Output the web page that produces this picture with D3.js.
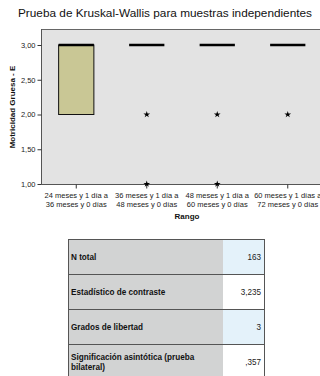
<!DOCTYPE html>
<html>
<head>
<meta charset="utf-8">
<script src="https://cdn.jsdelivr.net/npm/d3@7"></script>
<style>
  html, body { margin: 0; padding: 0; background: #fff; }
  svg { display: block; }
  text { font-family: "Liberation Sans", Arial, sans-serif; }
</style>
</head>
<body>
<svg id="chart" width="320" height="376"></svg>
<script>
// Age ranges (two lines per category label)
const catLine1 = ["24 meses y 1 día a", "36 meses y 1 día a", "48 meses y 1 día a", "60 meses y 1 días a"];
const catLine2 = ["36 meses y 0 días", "48 meses y 0 días", "60 meses y 0 días", "72 meses y 0 días"];

// Box-plot summary per range
const q1Values = [2, 3, 3, 3];
const medianValues = [3, 3, 3, 3];
const q3Values = [3, 3, 3, 3];

// Extreme values (asterisks)
const outlierCat = [1, 2, 3, 1, 2];
const outlierValue = [2, 2, 2, 1, 1];

// Y axis ticks
const yTicks = [1, 1.5, 2, 2.5, 3];

// Test summary table
const tableLabels = ["N total", "Estadístico de contraste", "Grados de libertad", "Significación asintótica (prueba|bilateral)"];
const tableValues = ["163", "3,235", "3", ",357"];

const svg = d3.select("#chart");

const plot = { left: 41, right: 323, top: 29, bottom: 184 };

const x = d3.scaleBand()
  .domain(d3.range(catLine1.length))
  .range([plot.left, plot.right]);

const y = d3.scaleLinear().domain([1, 3]).range([184, 45]);

// Title
svg.append("text")
  .attr("x", 165).attr("y", 17)
  .attr("text-anchor", "middle")
  .attr("font-size", 11.8)
  .attr("fill", "#111")
  .text("Prueba de Kruskal-Wallis para muestras independientes");

// Plot background
svg.append("rect")
  .attr("x", plot.left).attr("y", plot.top)
  .attr("width", plot.right - plot.left).attr("height", plot.bottom - plot.top)
  .attr("fill", "#e3e3e3")
  .attr("stroke", "none");
svg.append("line")
  .attr("x1", plot.left).attr("x2", plot.right)
  .attr("y1", plot.top + 0.5).attr("y2", plot.top + 0.5)
  .attr("stroke", "#666").attr("stroke-width", 1);

// Y axis
const yAxis = d3.axisLeft(y)
  .tickValues(yTicks)
  .tickSize(4)
  .tickPadding(2)
  .tickFormat(d => d3.format(".2f")(d).replace(".", ","));
const gy = svg.append("g")
  .attr("transform", `translate(${plot.left + 0.5},0)`)
  .call(yAxis);
gy.select(".domain").attr("d", `M0,${plot.top}V${plot.bottom}`).attr("stroke", "#555");
gy.selectAll(".tick line").attr("stroke", "#333");
gy.selectAll(".tick text").attr("font-size", 7.5).attr("fill", "#222")
  .attr("font-family", "'Liberation Sans', Arial, sans-serif");

// X axis
const xAxis = d3.axisBottom(x).tickSize(4).tickFormat("");
const gx = svg.append("g")
  .attr("transform", `translate(0,${plot.bottom + 0.5})`)
  .call(xAxis);
gx.select(".domain").attr("d", `M${plot.left},0H${plot.right}`).attr("stroke", "#555");
gx.selectAll(".tick line").attr("stroke", "#333");

// Category labels
const labels = svg.append("g");
catLine1.forEach((t, i) => {
  const cx = x(i) + x.bandwidth() / 2;
  labels.append("text").attr("x", cx).attr("y", 198)
    .attr("text-anchor", "middle").attr("font-size", 7.5).attr("fill", "#222").text(t);
  labels.append("text").attr("x", cx).attr("y", 207)
    .attr("text-anchor", "middle").attr("font-size", 7.5).attr("fill", "#222").text(catLine2[i]);
});

// Axis titles
svg.append("text")
  .attr("x", 187).attr("y", 219)
  .attr("text-anchor", "middle").attr("font-size", 8).attr("font-weight", "bold")
  .attr("fill", "#111").text("Rango");
svg.append("text")
  .attr("transform", "translate(15,107) rotate(-90)")
  .attr("text-anchor", "middle").attr("font-size", 8).attr("font-weight", "bold")
  .attr("fill", "#111").text("Motricidad Gruesa - E");

// Boxes
const boxW = x.bandwidth() / 2;
const boxes = svg.append("g");
catLine1.forEach((_, i) => {
  const cx = x(i) + x.bandwidth() / 2;
  const top = y(q3Values[i]);
  const bot = y(q1Values[i]);
  if (bot - top > 0) {
    boxes.append("rect")
      .attr("x", cx - boxW / 2).attr("y", top)
      .attr("width", boxW).attr("height", bot - top)
      .attr("fill", "#c9c795").attr("stroke", "#111").attr("stroke-width", 1);
  }
  boxes.append("line")
    .attr("x1", cx - boxW / 2).attr("x2", cx + boxW / 2)
    .attr("y1", y(medianValues[i])).attr("y2", y(medianValues[i]))
    .attr("stroke", "#000").attr("stroke-width", 2.5);
});

// Extreme values
const star = d3.symbol().type(d3.symbolStar).size(14);
svg.append("g").selectAll("path")
  .data(outlierCat.map((c, k) => ({ c, v: outlierValue[k] })))
  .join("path")
  .attr("d", star)
  .attr("transform", d => `translate(${x(d.c) + x.bandwidth() / 2},${y(d.v)})`)
  .attr("fill", "#000");

// Summary table
const tbl = { left: 68, labelRight: 223, right: 264, top: 239, rowH: 35 };
const tg = svg.append("g");
const labelFont = "'Liberation Sans Narrow', 'Arial Narrow', 'Liberation Sans', sans-serif";
tableLabels.forEach((lab, i) => {
  const ty = tbl.top + i * tbl.rowH;
  tg.append("rect").attr("x", tbl.left).attr("y", ty)
    .attr("width", tbl.labelRight - tbl.left).attr("height", tbl.rowH)
    .attr("fill", "#d2d3d3");
  tg.append("rect").attr("x", tbl.labelRight).attr("y", ty)
    .attr("width", tbl.right - tbl.labelRight).attr("height", tbl.rowH)
    .attr("fill", i % 2 === 0 ? "#e4f2fa" : "#ffffff");
  const lines = lab.split("|");
  // labels are drawn horizontally condensed
  const t = tg.append("text")
    .attr("transform", `translate(${tbl.left + 3},${ty}) scale(0.86,1)`)
    .attr("font-size", 9.5).attr("font-weight", "bold").attr("fill", "#111")
    .attr("font-family", labelFont);
  if (lines.length === 1) {
    t.attr("y", 21).text(lines[0]);
  } else {
    t.append("tspan").attr("x", 0).attr("y", 16.5).text(lines[0]);
    t.append("tspan").attr("x", 0).attr("y", 26).text(lines[1]);
  }
  tg.append("text")
    .attr("transform", `translate(${tbl.right - 3},${ty + 21}) scale(0.9,1)`)
    .attr("text-anchor", "end").attr("font-size", 9).attr("fill", "#222")
    .attr("font-family", labelFont)
    .text(tableValues[i]);
});
// Grid lines of the table
const nRows = tableLabels.length;
d3.range(nRows + 1).forEach(i => {
  tg.append("line")
    .attr("x1", tbl.left).attr("x2", tbl.right)
    .attr("y1", tbl.top + i * tbl.rowH + 0.5).attr("y2", tbl.top + i * tbl.rowH + 0.5)
    .attr("stroke", "#555").attr("stroke-width", 1);
});
[tbl.left, tbl.right].forEach(xx => {
  tg.append("line")
    .attr("x1", xx + 0.5).attr("x2", xx + 0.5)
    .attr("y1", tbl.top).attr("y2", tbl.top + nRows * tbl.rowH)
    .attr("stroke", "#555").attr("stroke-width", 1);
});
</script>
</body>
</html>
